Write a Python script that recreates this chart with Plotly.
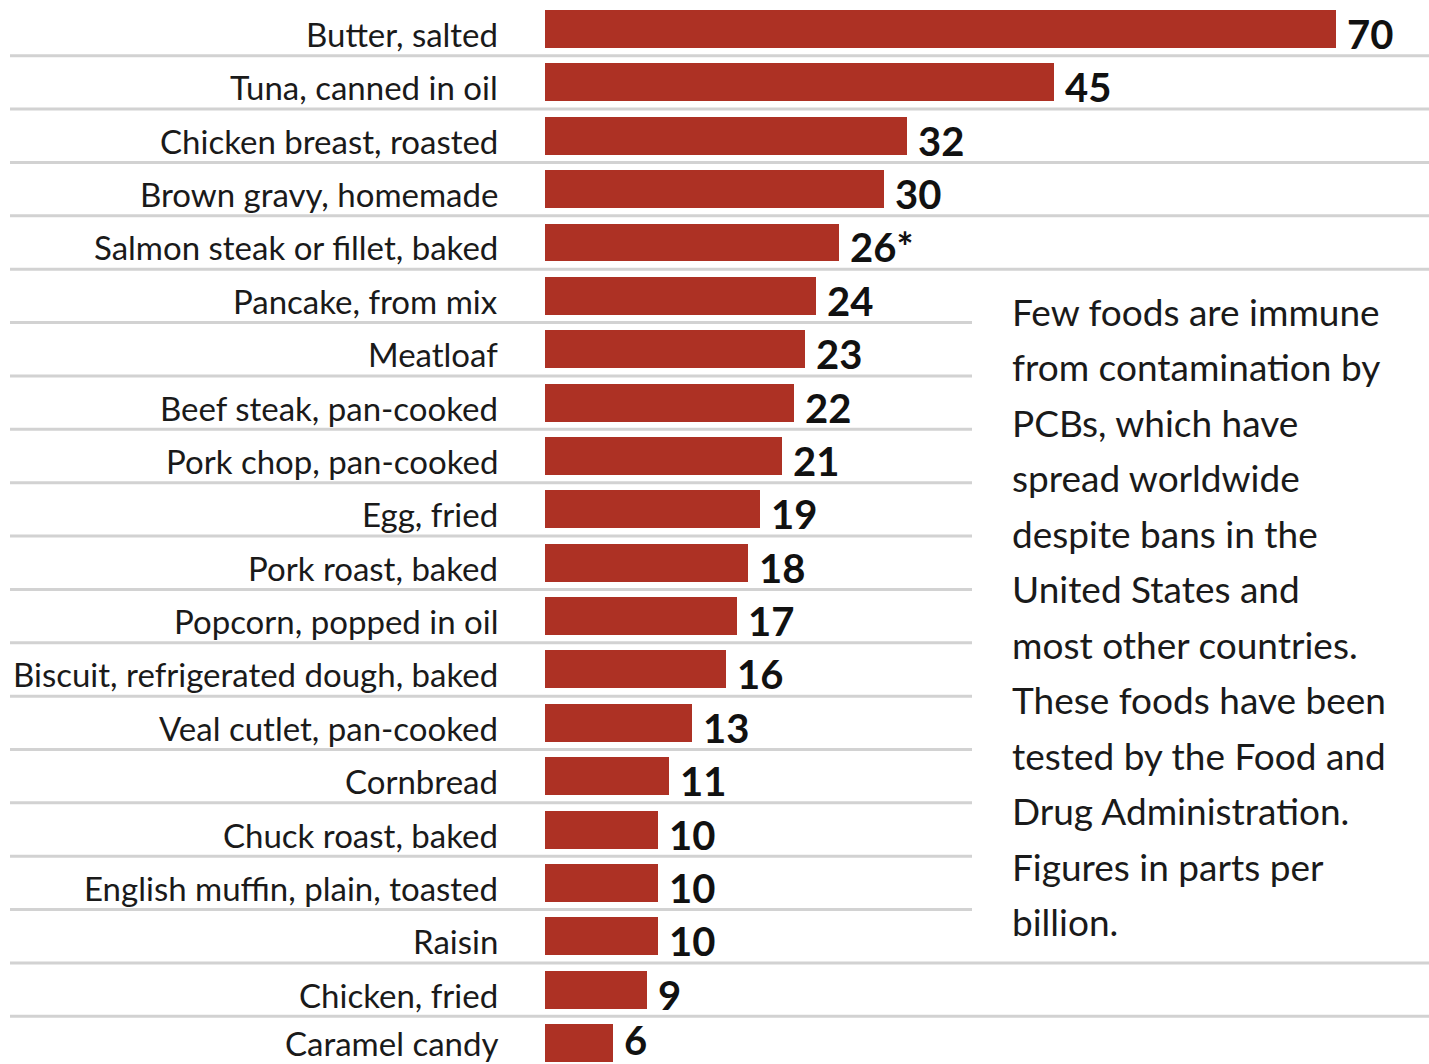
import plotly.graph_objects as go

# PCB levels in common foods (parts per billion), highest first
foods = [
    "Butter, salted",
    "Tuna, canned in oil",
    "Chicken breast, roasted",
    "Brown gravy, homemade",
    "Salmon steak or fillet, baked",
    "Pancake, from mix",
    "Meatloaf",
    "Beef steak, pan-cooked",
    "Pork chop, pan-cooked",
    "Egg, fried",
    "Pork roast, baked",
    "Popcorn, popped in oil",
    "Biscuit, refrigerated dough, baked",
    "Veal cutlet, pan-cooked",
    "Cornbread",
    "Chuck roast, baked",
    "English muffin, plain, toasted",
    "Raisin",
    "Chicken, fried",
    "Caramel candy",
]
ppb = [70, 45, 32, 30, 26, 24, 23, 22, 21, 19, 18, 17, 16, 13, 11, 10, 10, 10, 9, 6]
value_notes = {"Salmon steak or fillet, baked": "*"}

note_lines = [
    "Few foods are immune",
    "from contamination by",
    "PCBs, which have",
    "spread worldwide",
    "despite bans in the",
    "United States and",
    "most other countries.",
    "These foods have been",
    "tested by the Food and",
    "Drug Administration.",
    "Figures in parts per",
    "billion.",
]

W, H = 1429, 1064
BAR_LEFT = 545          # px where the bars start
PX_PER_UNIT = 11.3      # px per ppb
ROW_TOP = 29            # px centre of first row
ROW_STEP = 53.37        # px between rows
NOTE_LEFT = 1010
NOTE_TOP = 311
NOTE_STEP = 55.5
SHORT_RULE_END = 972

BAR_COLOR = "#ad3124"
RULE_COLOR = "#d2d2d2"
LABEL_FONT = "Lato, Roboto, sans-serif"

n = len(foods)
rows = list(range(n))

fig = go.Figure(
    go.Bar(
        x=ppb,
        y=rows,
        orientation="h",
        width=0.71,
        marker=dict(color=BAR_COLOR, line=dict(width=0)),
        hoverinfo="skip",
    )
)

x_max = (W - BAR_LEFT) / PX_PER_UNIT
y_lo = -ROW_TOP / ROW_STEP
y_hi = y_lo + H / ROW_STEP

fig.update_xaxes(
    domain=[BAR_LEFT / W, 1],
    range=[0, x_max],
    visible=False,
    fixedrange=True,
)
fig.update_yaxes(
    range=[y_hi, y_lo],
    visible=False,
    fixedrange=True,
)

shapes = []
# separator rules between rows; the ones beside the note stop short
for i in range(n - 1):
    y_sep = i + 0.5
    mid_px = ROW_TOP + (i + 0.5) * ROW_STEP
    x1 = 1.0 if (mid_px < 290 or mid_px > 940) else SHORT_RULE_END / W
    shapes.append(
        dict(
            type="line",
            xref="paper",
            yref="y",
            x0=10 / W,
            x1=x1,
            y0=y_sep,
            y1=y_sep,
            line=dict(color=RULE_COLOR, width=3),
            layer="below",
        )
    )

annotations = []
for i, (food, v) in enumerate(zip(foods, ppb)):
    # the last row sits on the bottom edge, so keep its text inside the page
    last = i == n - 1
    annotations.append(
        dict(
            xref="paper",
            yref="y",
            x=500 / W,
            y=i,
            text=food,
            xanchor="right",
            yanchor="middle",
            yshift=0 if last else -5,
            showarrow=False,
            font=dict(family=LABEL_FONT, size=33, color="#1a1a1a"),
        )
    )
    annotations.append(
        dict(
            xref="x",
            yref="y",
            x=v,
            y=i,
            text=f"{v}{value_notes.get(food, '')}",
            xanchor="left",
            yanchor="middle",
            xshift=9,
            yshift=3 if last else -5,
            showarrow=False,
            font=dict(family=LABEL_FONT, size=40, color="#111111", weight="bold"),
        )
    )

for k, line in enumerate(note_lines):
    annotations.append(
        dict(
            xref="paper",
            yref="paper",
            x=NOTE_LEFT / W,
            y=1 - (NOTE_TOP + k * NOTE_STEP) / H,
            text=line,
            xanchor="left",
            yanchor="middle",
            showarrow=False,
            font=dict(family=LABEL_FONT, size=37, color="#1a1a1a"),
        )
    )

fig.update_layout(
    width=W,
    height=H,
    margin=dict(l=0, r=0, t=0, b=0),
    paper_bgcolor="white",
    plot_bgcolor="white",
    showlegend=False,
    bargap=0,
    shapes=shapes,
    annotations=annotations,
)

fig.write_html("out.html")
